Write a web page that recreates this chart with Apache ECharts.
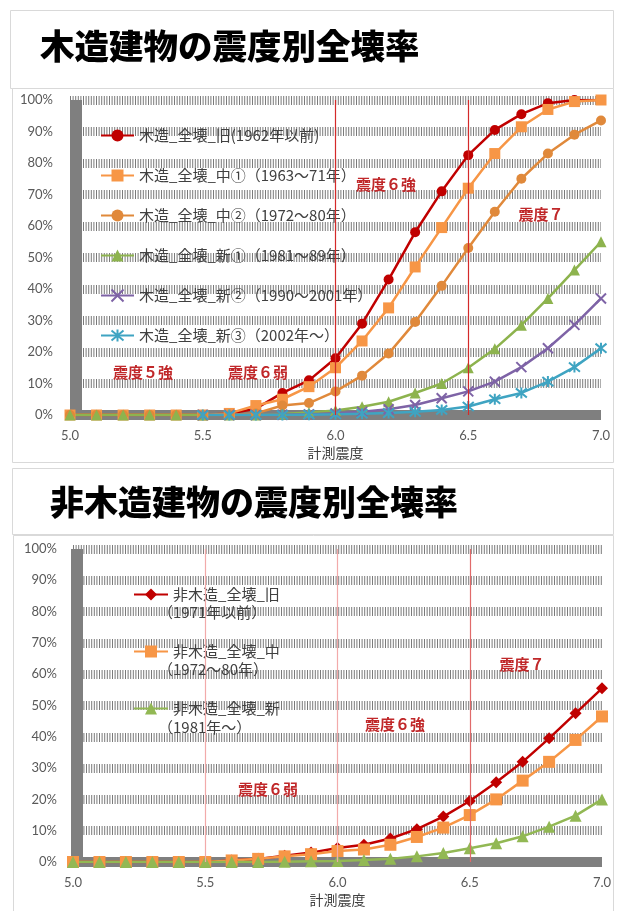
<!DOCTYPE html>
<html>
<head>
<meta charset="utf-8">
<script src="https://cdn.jsdelivr.net/npm/echarts@6/dist/echarts.min.js"></script>
<style>
  html, body { margin: 0; padding: 0; background: #fff; }
  #main { width: 622px; height: 911px; }
</style>
</head>
<body>
<div id="main"></div>
<script>
// 計測震度 (0.1 step)
const xs = [5.0, 5.1, 5.2, 5.3, 5.4, 5.5, 5.6, 5.7, 5.8, 5.9, 6.0, 6.1, 6.2, 6.3, 6.4, 6.5, 6.6, 6.7, 6.8, 6.9, 7.0];

// 木造 (%)
const woodNames = ['木造_全壊_旧(1962年以前)', '木造_全壊_中①（1963～71年）', '木造_全壊_中②（1972～80年）',
  '木造_全壊_新①（1981～89年）', '木造_全壊_新②（1990～2001年）', '木造_全壊_新③（2002年～）'];
const woodOld  = [0, 0, 0, 0, 0, 0, 0.5, 2, 7, 11, 18, 29, 43, 58, 71, 82.5, 90.5, 95.5, 99, 100, 100];
const woodMid1 = [0, 0, 0, 0, 0, 0, 0.5, 3, 5, 9, 15, 23.5, 34, 47, 59.5, 72, 83, 91.5, 97, 99.5, 100];
const woodMid2 = [0, 0, 0, 0, 0, 0, 0, 0.5, 3, 3.8, 7.5, 12.5, 19.5, 29.5, 41, 53, 64.5, 75, 83, 89, 93.5];
const woodNew1 = [0, 0, 0, 0, 0, 0, 0, 0, 0.3, 0.8, 1.4, 2.6, 4.2, 7, 10, 15, 21, 28.5, 37, 46, 55];
const woodNew2 = [null, null, null, null, null, 0, 0, 0, 0.1, 0.2, 0.5, 1, 1.8, 3.2, 5.3, 7.5, 10.6, 15.2, 21.2, 28.6, 37];
const woodNew3 = [null, null, null, null, null, 0, 0, 0, 0, 0.1, 0.2, 0.4, 0.6, 1, 1.6, 2.7, 5, 7, 10.6, 15.2, 21.2];

// 非木造 (%)
const rcNames = ['非木造_全壊_旧', '非木造_全壊_中', '非木造_全壊_新'];
const rcSub = ['（1971年以前）', '（1972～80年）', '（1981年～）'];
const rcOld = [0, 0, 0, 0, 0, 0, 0.5, 1, 2, 3, 4.5, 5.5, 7.5, 10.5, 14.5, 19.5, 25.5, 32, 39.5, 47.5, 55.5];
const rcMid = [0, 0, 0, 0, 0, 0, 0.5, 1, 1.8, 2.5, 3.5, 4, 5.5, 8, 11, 15, 20, 26, 32, 39, 46.5];
const rcNew = [0, 0, 0, 0, 0, 0, 0, 0, 0.1, 0.2, 0.3, 0.6, 1, 1.8, 2.9, 4.4, 6, 8.2, 11.3, 14.8, 20];

const pts = vals => vals.map((v, i) => [xs[i], v == null ? '-' : v]);

const RED_TXT = '#C0282A';
const CJK = '"Noto Sans CJK JP", sans-serif';
const NUM = 'Lato, "Noto Sans CJK JP", sans-serif';
const X_MARK = 'path://M0,0L10,10M10,0L0,10';
const STAR_MARK = 'path://M0,0L10,10M10,0L0,10M5,-1L5,11';

function xAxisOf(gridIndex, nameGap, margin) {
  return {
    gridIndex, type: 'value', min: 5, max: 7, interval: 0.5,
    offset: 5,
    name: '計測震度', nameLocation: 'middle', nameGap,
    nameTextStyle: { color: '#404040', fontSize: 14, fontFamily: CJK },
    axisLine: { show: true, lineStyle: { color: '#7f7f7f', width: 10, cap: 'butt' } },
    axisTick: { show: false },
    splitLine: { show: false },
    axisLabel: { color: '#595959', fontSize: 13, fontFamily: NUM, margin, formatter: v => v.toFixed(1) }
  };
}
function yAxisOf(gridIndex, offset, margin) {
  return {
    gridIndex, type: 'value', min: 0, max: 100, interval: 10,
    offset,
    axisLine: { show: true, lineStyle: { color: '#7f7f7f', width: 12, cap: 'butt' } },
    axisTick: { show: false },
    axisLabel: { color: '#595959', fontSize: 13, fontFamily: NUM, margin, formatter: '{value}%' },
    splitLine: { show: true, lineStyle: { color: '#7a7a7a', width: 9, type: [1, 1.6] } }
  };
}

function line(name, data, color, symbol, size, axis, extra) {
  return Object.assign({
    name, type: 'line', data: pts(data),
    xAxisIndex: axis, yAxisIndex: axis,
    symbol, symbolSize: size, showSymbol: true,
    lineStyle: { color, width: 2.5 },
    itemStyle: { color, borderColor: color, borderWidth: 0 },
    animation: false
  }, extra || {});
}
const strokeMark = color => ({ itemStyle: { color, borderColor: color, borderWidth: 2 } });

// vertical 震度 boundaries
function vLine(x, color) {
  return {
    silent: true, symbol: ['none', 'none'], label: { show: false },
    lineStyle: { color, width: 1.2, type: 'solid', opacity: 1 },
    emphasis: { disabled: true },
    data: [{ xAxis: x }]
  };
}

const annot = (text, x, y) => ({
  type: 'text', x, y, z: 50,
  style: { text, fill: RED_TXT, font: 'bold 15px ' + CJK, textAlign: 'center', textVerticalAlign: 'middle' }
});

const legendText = { color: '#404040', fontSize: 15, fontFamily: CJK };

const chart = echarts.init(document.getElementById('main'));
chart.setOption({
  backgroundColor: '#fff',
  animation: false,
  grid: [
    { left: 70, right: 21, top: 100, bottom: 496 },
    { left: 73, right: 20, top: 549, bottom: 49 }
  ],
  xAxis: [xAxisOf(0, 26, 9), xAxisOf(1, 26, 9)],
  yAxis: [yAxisOf(0, -6, 23), yAxisOf(1, -4, 20)],
  legend: [
    {
      data: woodNames, orient: 'vertical', left: 95, top: 123, itemGap: 25,
      itemWidth: 33, itemHeight: 15, selectedMode: false, textStyle: legendText
    },
    {
      data: rcNames, orient: 'vertical', left: 128, top: 582, itemGap: 42,
      itemWidth: 34, itemHeight: 15, selectedMode: false, textStyle: legendText
    }
  ],
  graphic: [
    { type: 'rect', z: -10, shape: { x: 10.5, y: 10.5, width: 603, height: 78 }, style: { fill: '#fff', stroke: '#d9d9d9', lineWidth: 1 } },
    { type: 'rect', z: -10, shape: { x: 12.5, y: 88.5, width: 601, height: 374 }, style: { fill: '#fff', stroke: '#d9d9d9', lineWidth: 1 } },
    { type: 'rect', z: -10, shape: { x: 12.5, y: 468.5, width: 601, height: 66 }, style: { fill: '#fff', stroke: '#d9d9d9', lineWidth: 1 } },
    { type: 'rect', z: -10, shape: { x: 13.5, y: 535.5, width: 600, height: 380 }, style: { fill: '#fff', stroke: '#d9d9d9', lineWidth: 1 } },
    { type: 'text', x: 40, y: 46, z: 50, style: { text: '木造建物の震度別全壊率', fill: '#000', font: '900 34.5px ' + CJK, textVerticalAlign: 'middle' } },
    { type: 'text', x: 50, y: 502, z: 50, style: { text: '非木造建物の震度別全壊率', fill: '#000', font: '900 34px ' + CJK, textVerticalAlign: 'middle' } },
    annot('震度６強', 386, 184),
    annot('震度７', 541, 214),
    annot('震度５強', 143, 372),
    annot('震度６弱', 258, 372),
    annot('震度７', 522, 664),
    annot('震度６強', 395, 724),
    annot('震度６弱', 268, 789),
    ...rcSub.map((t, i) => ({
      type: 'text', x: 158, y: [612, 669, 727][i], z: 50,
      style: { text: t, fill: '#404040', font: '15px ' + CJK, textVerticalAlign: 'middle' }
    }))
  ],
  series: [
    line(woodNames[0], woodOld, '#C00000', 'circle', 10, 0, { markLine: vLine(6.5, '#D42A2A') }),
    line(woodNames[1], woodMid1, '#F79646', 'rect', 11, 0, { markLine: vLine(6.0, '#D42A2A') }),
    line(woodNames[2], woodMid2, '#E0893B', 'circle', 10, 0),
    line(woodNames[3], woodNew1, '#8DB34E', 'triangle', 11, 0),
    line(woodNames[4], woodNew2, '#7E63A6', X_MARK, 10, 0, strokeMark('#7E63A6')),
    line(woodNames[5], woodNew3, '#3FA4C2', STAR_MARK, 11, 0, strokeMark('#3FA4C2')),
    line(rcNames[0], rcOld, '#C00000', 'diamond', 12, 1, { markLine: vLine(5.5, '#F2AAAA') }),
    line(rcNames[1], rcMid, '#F79646', 'rect', 12, 1, { markLine: vLine(6.0, '#F2AAAA') }),
    line(rcNames[2], rcNew, '#92B854', 'triangle', 12, 1, { markLine: vLine(6.5, '#E06A6A') })
  ]
});
</script>
</body>
</html>
